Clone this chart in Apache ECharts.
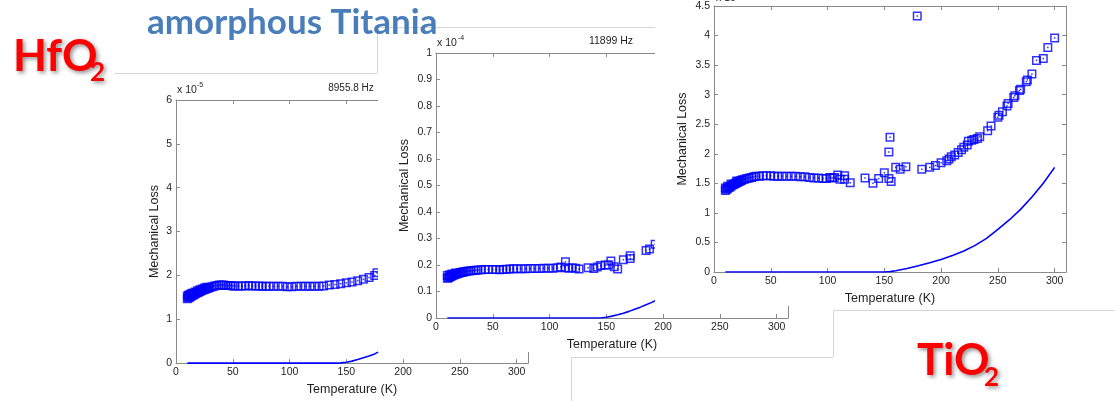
<!DOCTYPE html>
<html><head><meta charset="utf-8">
<script src="https://cdn.jsdelivr.net/npm/echarts@6/dist/echarts.min.js"></script>
<style>html,body{margin:0;padding:0;background:#fff}#c{width:1115px;height:401px}</style>
</head><body><div id="c"></div><script>
// ---------- data (loss values in units of the axis multiplier) ----------
// Panel A : HfO2, 8955.8 Hz, x 10^-5
const aT    = [10,10,11,11,12,12,13,13,14,14,15,15,16,17,17,18,19,19,20,21,21,22,23,23,24,25,25,26,27,27,28,29,30,32,34,36,38,40,42,44,46,48,50,52,55,58,61,64,67,70,73,76,79,82,86,90,94,98,102,106,110,114,118,122,126,130,135,140,145,150,155,160,165,170,175,177];
const aLoss = [1.47,1.53,1.49,1.55,1.50,1.56,1.52,1.57,1.54,1.59,1.55,1.60,1.57,1.58,1.62,1.60,1.61,1.65,1.62,1.63,1.67,1.65,1.66,1.69,1.67,1.68,1.71,1.69,1.70,1.73,1.71,1.72,1.73,1.74,1.76,1.77,1.78,1.78,1.78,1.77,1.77,1.77,1.76,1.76,1.76,1.76,1.76,1.77,1.76,1.76,1.76,1.75,1.75,1.75,1.75,1.75,1.75,1.74,1.74,1.75,1.75,1.75,1.75,1.75,1.75,1.76,1.78,1.79,1.81,1.83,1.85,1.88,1.91,1.95,2.00,2.06];
const aModelT = [10,140,145,150,155,160,165,170,175,178];
const aModel  = [0,0,0.005,0.02,0.045,0.08,0.12,0.16,0.21,0.25];

// Panel B : 11899 Hz, x 10^-4
const bT    = [10,10,11,12,12,13,14,14,15,16,17,17,18,19,20,21,22,23,24,25,27,29,31,33,35,37,40,43,46,50,53,56,59,62,65,68,71,75,79,83,87,91,95,99,103,107,110,114,114,117,120,123,126,134,139,142,145,149,152,154,157,160,165,171,171,185,188,193];
const bLoss = [0.150,0.160,0.152,0.155,0.163,0.157,0.159,0.166,0.161,0.163,0.165,0.170,0.166,0.168,0.169,0.171,0.172,0.173,0.174,0.175,0.176,0.177,0.178,0.179,0.180,0.181,0.182,0.183,0.183,0.183,0.183,0.182,0.183,0.184,0.185,0.186,0.186,0.186,0.186,0.187,0.187,0.187,0.188,0.188,0.188,0.190,0.192,0.212,0.190,0.188,0.190,0.188,0.185,0.190,0.187,0.192,0.198,0.200,0.200,0.215,0.193,0.185,0.220,0.235,0.225,0.255,0.260,0.278];
const bModelT = [10,145,150,155,160,165,170,175,180,185,190,193];
const bModel  = [0,0,0.003,0.007,0.012,0.018,0.025,0.033,0.041,0.050,0.059,0.065];

// Panel C : TiO2, x 10^-4
const cT    = [10,10,11,12,12,13,14,15,15,16,17,18,19,20,20,21,22,23,24,25,27,29,31,33,35,37,40,43,46,50,53,56,60,64,68,72,76,80,84,88,92,96,99,102,104,106,109,111,115,115,120,133,140,145,150,154,154,155,156,160,164,169,179,183,190,195,200,205,207,209,212,215,218,220,223,224,227,229,232,234,241,244,250,251,254,258,259,264,265,269,270,275,276,280,284,290,294,300];
const cLoss = [1.38,1.42,1.40,1.41,1.45,1.43,1.44,1.45,1.49,1.47,1.48,1.49,1.50,1.51,1.54,1.52,1.53,1.54,1.55,1.56,1.57,1.58,1.59,1.60,1.61,1.62,1.62,1.63,1.63,1.63,1.62,1.62,1.62,1.62,1.62,1.62,1.61,1.61,1.60,1.59,1.59,1.58,1.58,1.60,1.59,1.60,1.64,1.57,1.63,1.57,1.51,1.59,1.50,1.58,1.68,1.58,2.03,2.28,1.53,1.77,1.74,1.78,4.33,1.74,1.77,1.80,1.85,1.88,1.91,1.95,1.98,2.02,2.07,2.11,2.15,2.21,2.23,2.24,2.26,2.29,2.39,2.47,2.62,2.65,2.71,2.81,2.85,2.95,2.98,3.07,3.09,3.22,3.25,3.35,3.58,3.61,3.80,3.96];
const cModelT = [10,150,155,160,170,180,190,200,210,220,230,240,250,260,270,280,290,300];
const cModel  = [0,0,0.007,0.02,0.06,0.105,0.155,0.21,0.28,0.355,0.45,0.57,0.72,0.88,1.06,1.27,1.50,1.77];

// tick labels / titles
const xName = 'Temperature (K)';
const yName = 'Mechanical Loss';
const freqA = '8955.8 Hz';
const freqB = '11899 Hz';
const mulA = '-5', mulB = '-4', mulC = '-4';

// ---------- chart ----------
const MF = "'Liberation Sans', Arial, sans-serif";
const AX = '#8a8a8a', TX = '#1e1e1e', BLUE = '#0000ff';
const zip = (xs, ys) => xs.map((x, i) => [x, ys[i]]);

const grids = [
  {left: 176, top: 100, width: 352, height: 265},
  {left: 436, top: 53,  width: 352, height: 265},
  {left: 714, top: 6,   width: 352, height: 266}
];
const yCfg = [
  {max: 6, interval: 1, gap: 15},
  {max: 1, interval: 0.1, gap: 25},
  {max: 4.5, interval: 0.5, gap: 25}
];
const zBase = [1, 4, 7];

const xAxes = [], yAxes = [];
grids.forEach((g, i) => {
  const z = zBase[i];
  const common = {type: 'value', gridIndex: i, z: z, splitLine: {show: false},
    axisLine: {show: true, onZero: false, lineStyle: {color: AX, width: 1}},
    axisTick: {show: true, inside: true, length: 4, lineStyle: {color: AX}}};
  xAxes.push(Object.assign({}, common, {position: 'bottom', min: 0, max: 310, interval: 50,
    axisLabel: {show: true, showMaxLabel: false, margin: 4, color: TX, fontSize: 10.5, fontFamily: MF},
    name: xName, nameLocation: 'middle', nameGap: 18,
    nameTextStyle: {color: TX, fontSize: 12.5, fontFamily: MF}}));
  xAxes.push(Object.assign({}, common, {position: 'top', min: 0, max: 310, interval: 50,
    axisLabel: {show: false}}));
  yAxes.push(Object.assign({}, common, {position: 'left', min: 0, max: yCfg[i].max, interval: yCfg[i].interval,
    axisLabel: {show: true, margin: 4, color: TX, fontSize: 10.5, fontFamily: MF},
    name: yName, nameLocation: 'middle', nameGap: yCfg[i].gap,
    nameTextStyle: {color: TX, fontSize: 12.5, fontFamily: MF}}));
  yAxes.push(Object.assign({}, common, {position: 'right', min: 0, max: yCfg[i].max, interval: yCfg[i].interval,
    axisLabel: {show: false}}));
});

const pts = [zip(aT, aLoss), zip(bT, bLoss), zip(cT, cLoss)];
const mdl = [zip(aModelT, aModel), zip(bModelT, bModel), zip(cModelT, cModel)];
const series = [];
for (let i = 0; i < 3; i++) {
  series.push({type: 'line', xAxisIndex: 2 * i, yAxisIndex: 2 * i, z: zBase[i] + 1, data: mdl[i],
    showSymbol: false, smooth: false, silent: true,
    lineStyle: {color: BLUE, width: 1.6, join: 'round'}});
  series.push({type: 'scatter', xAxisIndex: 2 * i, yAxisIndex: 2 * i, z: zBase[i] + 1, data: pts[i],
    symbol: 'rect', symbolSize: 7.5, silent: true,
    itemStyle: {color: 'rgba(255,255,255,0)', borderColor: BLUE, borderWidth: 1.5}});
  series.push({type: 'scatter', xAxisIndex: 2 * i, yAxisIndex: 2 * i, z: zBase[i] + 1, data: pts[i],
    symbol: 'rect', symbolSize: 1.5, silent: true,
    itemStyle: {color: BLUE}});
}

const txt = (text, x, y, font, fill, z, align, extra) => ({type: 'text', z: z, silent: true,
  style: Object.assign({text: text, x: x, y: y, font: font, fill: fill,
    textAlign: align || 'left', textVerticalAlign: 'middle'}, extra || {})});
const ln = (x1, y1, x2, y2, z) => ({type: 'line', z: z, silent: true,
  shape: {x1: x1, y1: y1, x2: x2, y2: y2}, style: {stroke: '#d6d6d6', lineWidth: 1}});
const shadow = {textShadowColor: 'rgba(0,0,0,0.45)', textShadowBlur: 4, textShadowOffsetX: 2, textShadowOffsetY: 2,
  shadowColor: 'rgba(0,0,0,0.45)', shadowBlur: 4, shadowOffsetX: 2, shadowOffsetY: 2};
const TF = "bold 35px Lato, 'Open Sans', sans-serif";
const RF = "bold 44px Lato, 'Open Sans', sans-serif";
const SF = "bold 26px Lato, 'Open Sans', sans-serif";

const graphics = [
  // panel A annotations
  txt('x 10', 177, 90, '10.5px ' + MF, TX, 1),
  txt(mulA, 197, 85, '7px ' + MF, TX, 1),
  txt(freqA, 351, 88.5, '10px ' + MF, TX, 1, 'center'),
  // panel B "paper" covering A
  {type: 'rect', z: 3, silent: true, shape: {x: 378, y: 27, width: 300, height: 325}, style: {fill: '#fff'}},
  ln(377, 27.5, 655, 27.5, 3), ln(377.5, 27, 377.5, 73, 3), ln(115, 73.5, 377, 73.5, 3),
  txt('x 10', 437, 43.5, '10.5px ' + MF, TX, 4),
  txt(mulB, 458, 38.5, '7px ' + MF, TX, 4),
  txt(freqB, 611, 41, '10.5px ' + MF, TX, 4, 'center'),
  // panel C "paper" covering B
  {type: 'rect', z: 6, silent: true, shape: {x: 655, y: 0, width: 460, height: 306}, style: {fill: '#fff'}},
  txt('x 10', 716, -2, '10.5px ' + MF, TX, 7),
  txt(mulC, 737, -7, '7px ' + MF, TX, 7),
  // lower right frame lines
  ln(571.5, 357, 571.5, 401, 10), ln(571, 357.5, 833, 357.5, 10),
  ln(833.5, 310, 833.5, 357, 10), ln(833, 310.5, 1115, 310.5, 10),
  // slide titles
  txt('amorphous Titania', 147, 23, TF, '#4a7ebb', 10),
  txt('HfO', 13, 57, RF, '#ff0000', 10, 'left', shadow),
  txt('2', 90, 73, SF, '#ff0000', 10, 'left', shadow),
  txt('TiO', 917, 361, RF, '#ff0000', 10, 'left', shadow),
  txt('2', 984, 378, SF, '#ff0000', 10, 'left', shadow)
];

const chart = echarts.init(document.getElementById('c'), null, {renderer: 'canvas'});
chart.setOption({
  animation: false,
  backgroundColor: '#ffffff',
  grid: grids,
  xAxis: xAxes,
  yAxis: yAxes,
  series: series,
  graphic: {elements: graphics}
});
</script></body></html>
